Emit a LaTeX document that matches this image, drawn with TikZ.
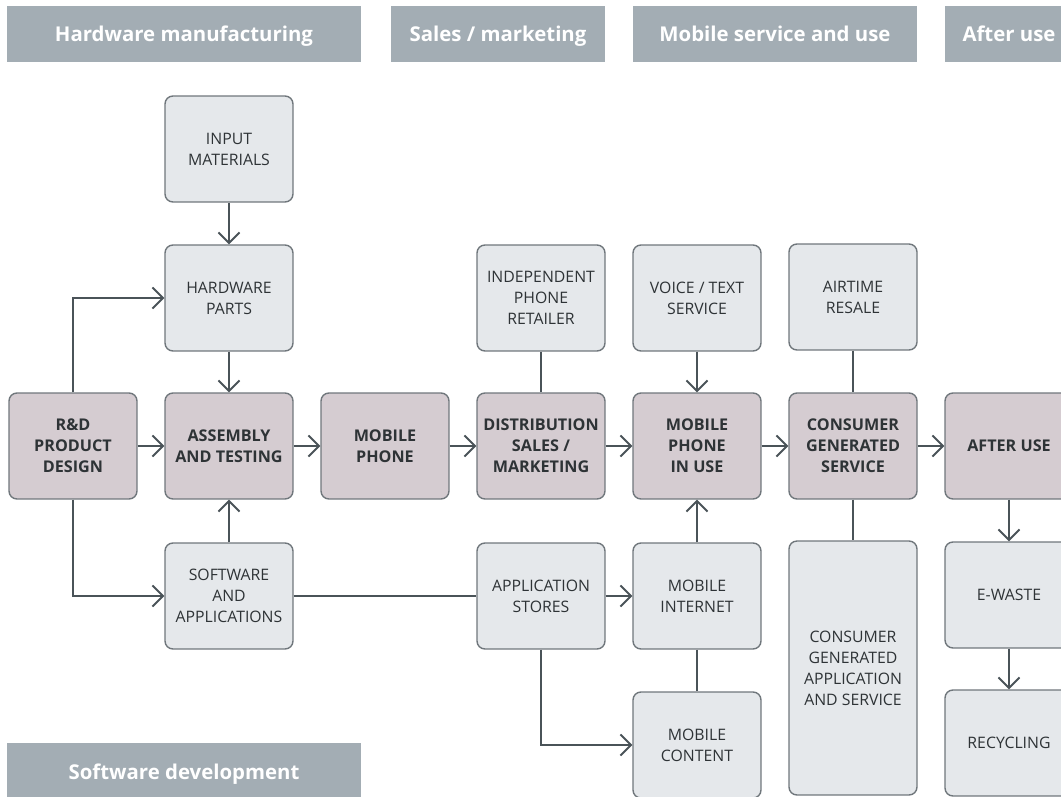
\documentclass[tikz,border=0pt]{standalone}
\usepackage{fontspec}
\setmainfont{Open Sans}
\usetikzlibrary{arrows.meta}
\definecolor{headgray}{HTML}{A3ADB4}
\definecolor{stagefill}{HTML}{D5CCD1}
\definecolor{partfill}{HTML}{E5E8EB}
\definecolor{boxline}{HTML}{70777C}
\definecolor{linkcol}{HTML}{4A5358}
\definecolor{txt}{HTML}{2E3336}
\begin{document}
\begin{tikzpicture}[x=0.02cm,y=-0.02cm,
    stage/.style={draw=boxline,fill=stagefill,line width=0.8pt,rounded corners=4.5pt,
      minimum width=2.56cm,minimum height=2.12cm,inner sep=1pt,align=center,text=txt,
      font=\bfseries\fontsize{9.2}{12}\selectfont},
    part/.style={stage,fill=partfill,font=\fontsize{9}{12}\selectfont},
    phase/.style={fill=headgray,text=white,minimum height=1.12cm,inner sep=0pt,
      text height=2ex,text depth=0.3ex,
      font=\bfseries\fontsize{11.6}{14}\selectfont},
    link/.style={draw=linkcol,line width=1.1pt},
    flow/.style={link,-{Straight Barb[length=6pt,width=12pt]}}
  ]
  \useasboundingbox (0,0) rectangle (1061,797);
  \clip (0,0) rectangle (1061,797);
  % phase headers
  \node[phase,minimum width=7.08cm] (h1) at (184,34) {Hardware manufacturing};
  \node[phase,minimum width=4.28cm] (h2) at (498,34) {Sales / marketing};
  \node[phase,minimum width=5.68cm] (h3) at (775,34) {Mobile service and use};
  \node[phase,minimum width=2.56cm] (h4) at (1009,34) {After use};
  \node[phase,minimum width=7.08cm] (h5) at (184,771) {Software development};
  % main chain
  \node[stage] (rd) at (73,446) {R\&D\\PRODUCT\\DESIGN};
  \node[stage] (asm) at (229,446) {ASSEMBLY\\AND TESTING};
  \node[stage] (mp) at (385,446) {MOBILE\\PHONE};
  \node[stage] (dist) at (541,446) {DISTRIBUTION\\SALES /\\MARKETING};
  \node[stage] (use) at (697,446) {MOBILE\\PHONE\\IN USE};
  \node[stage] (cgs) at (853,446) {CONSUMER\\GENERATED\\SERVICE};
  \node[stage] (aft) at (1009,446) {AFTER USE};
  % upper boxes
  \node[part] (inp) at (229,149) {INPUT\\MATERIALS};
  \node[part] (hw) at (229,298) {HARDWARE\\PARTS};
  \node[part] (ret) at (541,298) {INDEPENDENT\\PHONE\\RETAILER};
  \node[part] (vt) at (697,298) {VOICE / TEXT\\SERVICE};
  \node[part] (air) at (853,297) {AIRTIME\\RESALE};
  % lower boxes
  \node[part] (sw) at (229,596) {SOFTWARE\\AND\\APPLICATIONS};
  \node[part] (as) at (541,596) {APPLICATION\\STORES};
  \node[part] (mi) at (697,596) {MOBILE\\INTERNET};
  \node[part] (ew) at (1009,595) {E-WASTE};
  \node[part,minimum height=5.08cm] (cga) at (853,668) {CONSUMER\\GENERATED\\APPLICATION\\AND SERVICE};
  \node[part] (mc) at (697,745) {MOBILE\\CONTENT};
  \node[part] (rec) at (1009,743) {RECYCLING};
  % connectors
  \path
    (inp) edge[flow] (hw)
    (hw) edge[flow] (asm)
    (sw) edge[flow] (asm)
    (rd) edge[flow] (asm)
    (asm) edge[flow] (mp)
    (mp) edge[flow] (dist)
    (dist) edge[flow] (use)
    (vt) edge[flow] (use)
    (mi) edge[flow] (use)
    (use) edge[flow] (cgs)
    (cgs) edge[flow] (aft)
    (aft) edge[flow] (ew)
    (ew) edge[flow] (rec)
    (as) edge[flow] (mi)
    (ret) edge[link] (dist)
    (air) edge[link] (cgs)
    (cgs) edge[link] (cga)
    (mi) edge[link] (mc)
    (sw) edge[link] (as);
  \draw[flow] (rd.north) |- (hw.west);
  \draw[flow] (rd.south) |- (sw.west);
  \draw[flow] (as.south) |- (mc.west);
\end{tikzpicture}
\end{document}
